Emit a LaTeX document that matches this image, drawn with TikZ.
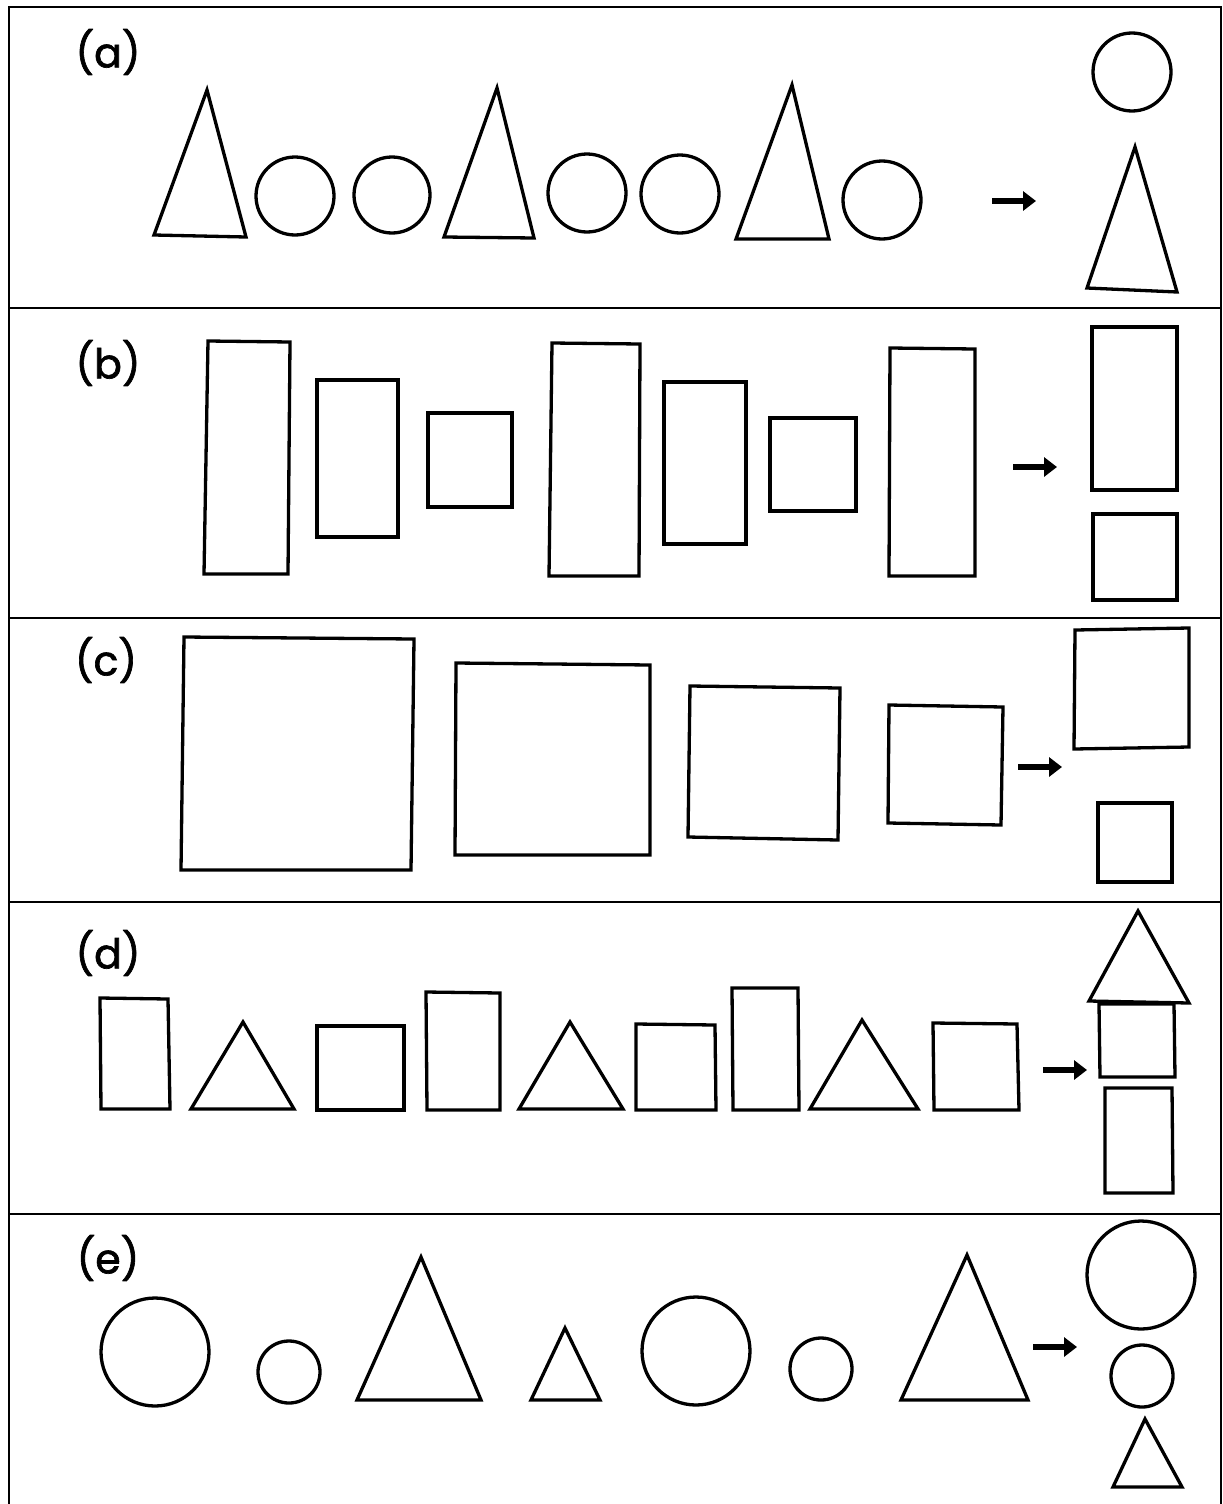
\documentclass[tikz,border=0pt]{standalone}
\usepackage{fontspec}
\setmainfont{Poppins}
\newfontfamily\labelfont[FakeBold=1.6]{Poppins}
\usepackage{tikz}
\usetikzlibrary{arrows.meta}

\tikzset{
  figline/.style={black,line width=3.3pt,line join=miter},
  frameline/.style={black,line width=2.8pt},
  pointer/.style={black,line width=6.5pt,-{Triangle[length=13pt,width=19pt]}},
  panellabel/.style={font=\labelfont\fontsize{41}{48}\selectfont,inner sep=0pt}
}

\begin{document}
\begin{tikzpicture}[x=1pt,y=-1pt]
    \useasboundingbox (0,0) rectangle (1223,1504);

    % Frame and panel separators
    \draw[frameline] (9,1504) -- (9,7) -- (1221,7) -- (1221,1504);
    \foreach \yy in {308,618,902,1214}
      \draw[frameline] (9,\yy) -- (1221,\yy);

    % Labels
    \node[panellabel] (la) at (108,52) {(a)};
    \node[panellabel] (lb) at (108,363) {(b)};
    \node[panellabel] (lc) at (106,660) {(c)};
    \node[panellabel] (ld) at (108,953) {(d)};
    \node[panellabel] (le) at (108,1258) {(e)};

    % Panel (a)
    \draw[figline] (207,90) -- (154,235) -- (246,237) -- cycle;
    \draw[figline] (295,196) circle (39);
    \draw[figline] (392,195) circle (38);
    \draw[figline] (497,88) -- (444,237) -- (534,238) -- cycle;
    \draw[figline] (587,193) circle (39);
    \draw[figline] (680,194) circle (39);
    \draw[figline] (792,85) -- (736,239) -- (829,239) -- cycle;
    \draw[figline] (882,200) circle (39);
    \coordinate (a1) at (992,201);
    \coordinate (a2) at (1036,201);
    \draw[pointer] (a1) -- (a2);
    \draw[figline] (1132,72) circle (39);
    \draw[figline] (1135,147) -- (1087,288) -- (1177,292) -- cycle;

    % Panel (b)
    \draw[figline] (208,341) -- (290,342) -- (288,574) -- (204,574) -- cycle;
    \draw[figline] (317,380) rectangle (398,537);
    \draw[figline] (428,413) rectangle (512,507);
    \draw[figline] (552,343) -- (640,344) -- (639,576) -- (549,576) -- cycle;
    \draw[figline] (664,382) rectangle (746,544);
    \draw[figline] (770,418) rectangle (856,511);
    \draw[figline] (890,348) -- (975,349) -- (975,576) -- (889,576) -- cycle;
    \coordinate (b1) at (1013,467);
    \coordinate (b2) at (1057,467);
    \draw[pointer] (b1) -- (b2);
    \draw[figline] (1092,327) rectangle (1177,490);
    \draw[figline] (1093,514) rectangle (1177,600);

    % Panel (c)
    \draw[figline] (184,637) -- (414,639) -- (411,870) -- (181,870) -- cycle;
    \draw[figline] (456,663) -- (650,665) -- (650,855) -- (455,855) -- cycle;
    \draw[figline] (690,686) -- (840,688) -- (838,840) -- (688,837) -- cycle;
    \draw[figline] (889,705) -- (1003,707) -- (1001,825) -- (888,823) -- cycle;
    \coordinate (c1) at (1018,767);
    \coordinate (c2) at (1062,767);
    \draw[pointer] (c1) -- (c2);
    \draw[figline] (1075,630) -- (1189,628) -- (1189,747) -- (1074,749) -- cycle;
    \draw[figline] (1098,803) rectangle (1172,882);

    % Panel (d)
    \draw[figline] (100,998) -- (168,999) -- (170,1109) -- (101,1109) -- cycle;
    \draw[figline] (243,1022) -- (191,1109) -- (294,1109) -- cycle;
    \draw[figline] (317,1026) rectangle (404,1110);
    \draw[figline] (426,992) -- (500,993) -- (500,1110) -- (427,1110) -- cycle;
    \draw[figline] (570,1022) -- (519,1109) -- (623,1109) -- cycle;
    \draw[figline] (636,1024) -- (715,1025) -- (716,1110) -- (636,1110) -- cycle;
    \draw[figline] (732,988) -- (798,988) -- (799,1110) -- (733,1110) -- cycle;
    \draw[figline] (862,1020) -- (810,1109) -- (918,1109) -- cycle;
    \draw[figline] (933,1023) -- (1017,1024) -- (1019,1110) -- (934,1110) -- cycle;
    \coordinate (d1) at (1043,1070);
    \coordinate (d2) at (1087,1070);
    \draw[pointer] (d1) -- (d2);
    \draw[figline] (1138,911) -- (1089,1001) -- (1189,1003) -- cycle;
    \draw[figline] (1099,1004) -- (1174,1004) -- (1175,1077) -- (1100,1077) -- cycle;
    \draw[figline] (1105,1088) -- (1172,1088) -- (1173,1193) -- (1105,1193) -- cycle;

    % Panel (e)
    \draw[figline] (155,1352) circle (54);
    \draw[figline] (289,1372) circle (31);
    \draw[figline] (421,1257) -- (357,1400) -- (481,1400) -- cycle;
    \draw[figline] (565,1328) -- (531,1400) -- (600,1400) -- cycle;
    \draw[figline] (696,1351) circle (54);
    \draw[figline] (821,1369) circle (31);
    \draw[figline] (967,1255) -- (901,1400) -- (1028,1400) -- cycle;
    \coordinate (e1) at (1033,1347);
    \coordinate (e2) at (1077,1347);
    \draw[pointer] (e1) -- (e2);
    \draw[figline] (1141,1275) circle (54);
    \draw[figline] (1142,1376) circle (31);
    \draw[figline] (1145,1419) -- (1113,1487) -- (1182,1487) -- cycle;
\end{tikzpicture}
\end{document}
